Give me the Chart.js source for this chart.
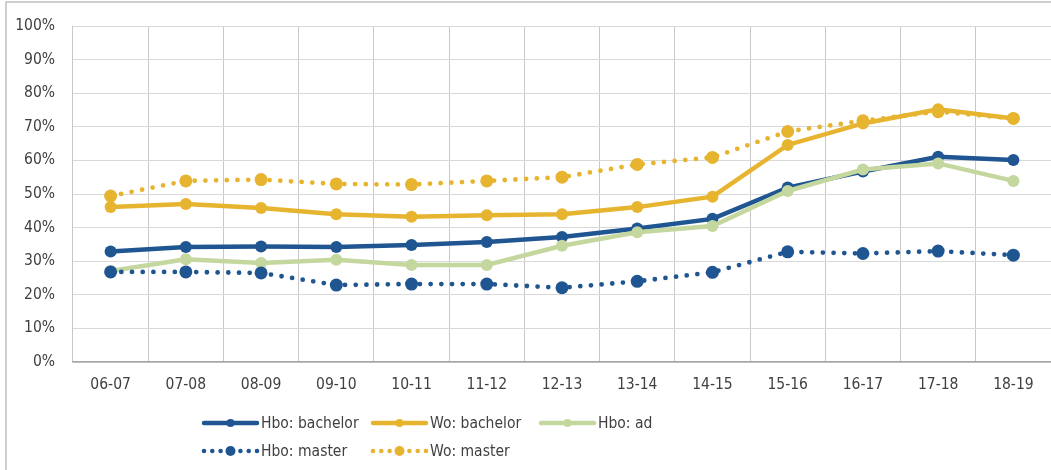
<!DOCTYPE html>
<html>
<head>
<meta charset="utf-8">
<script src="https://cdn.jsdelivr.net/npm/chart.js@4"></script>
<style>
  html, body { margin: 0; padding: 0; background: #fff; }
  #wrap { width: 1051px; height: 470px; position: relative; }
</style>
</head>
<body>
<div id="wrap"><canvas id="chart" width="1051" height="470"></canvas></div>
<script>
const labels = ['06-07', '07-08', '08-09', '09-10', '10-11', '11-12', '12-13', '13-14', '14-15', '15-16', '16-17', '17-18', '18-19'];
const hboBachelor = [32.9, 34.2, 34.4, 34.2, 34.8, 35.7, 37.2, 39.7, 42.6, 51.9, 56.7, 61.1, 60.1];
const woBachelor = [46.1, 47.0, 45.8, 44.0, 43.2, 43.7, 44.0, 46.1, 49.2, 64.6, 71.0, 75.2, 72.5];
const hboAd = [27.1, 30.6, 29.5, 30.4, 28.9, 28.9, 34.6, 38.6, 40.5, 50.9, 57.3, 59.1, 53.9];
const hboMaster = [26.8, 26.8, 26.5, 22.9, 23.2, 23.2, 22.1, 24.0, 26.7, 32.8, 32.3, 33.0, 31.8];
const woMaster = [49.4, 53.9, 54.3, 53.0, 52.8, 53.9, 55.0, 58.8, 60.9, 68.6, 71.8, 74.5, 72.5];
const yTicks = [0, 10, 20, 30, 40, 50, 60, 70, 80, 90, 100];

const BLUE = '#1f5591';
const GOLD = '#e7b42f';
const GREEN = '#c4d79e';
const FONT = '"DejaVu Sans Condensed", "DejaVu Sans", sans-serif';

function solid(label, data, color, order) {
    return {
        label, data, order,
        borderColor: color, backgroundColor: color,
        borderWidth: 4.5, pointRadius: 6, pointHoverRadius: 6,
        pointBorderWidth: 0, tension: 0, dotted: false
    };
}
function dotted(label, data, color, order) {
    return {
        label, data, order,
        borderColor: color, backgroundColor: color,
        borderWidth: 4.8, borderDash: [0, 10.7], borderCapStyle: 'round',
        pointRadius: 6.5, pointHoverRadius: 6.5,
        pointBorderWidth: 0, tension: 0, dotted: true
    };
}

// frame + two-row legend like the original
const framePlugin = {
    id: 'frame',
    beforeDraw(chart) {
        const ctx = chart.ctx;
        ctx.save();
        ctx.strokeStyle = '#c0c0c0';
        ctx.lineWidth = 1.5;
        ctx.strokeRect(6, 2, 1100, 520);
        ctx.restore();
    },
    afterDraw(chart) {
        const ctx = chart.ctx;
        const slots = [[204, 423], [373, 423], [541, 423], [204, 451], [373, 451]];
        ctx.save();
        chart.data.datasets.forEach((ds, i) => {
            const [x, y] = slots[i];
            ctx.strokeStyle = ds.borderColor;
            ctx.fillStyle = ds.borderColor;
            if (ds.dotted) {
                [0, 8.3, 16.6, 36.4, 44.7, 53].forEach(dx => {
                    ctx.beginPath();
                    ctx.arc(x + dx, y, 2.3, 0, Math.PI * 2);
                    ctx.fill();
                });
            } else {
                ctx.lineWidth = 4.5;
                ctx.lineCap = 'round';
                ctx.beginPath();
                ctx.moveTo(x, y);
                ctx.lineTo(x + 53, y);
                ctx.stroke();
            }
            ctx.beginPath();
            ctx.arc(x + 26.5, y, ds.dotted ? 5 : 4, 0, Math.PI * 2);
            ctx.fill();
            ctx.fillStyle = '#404040';
            ctx.font = '15.5px ' + FONT;
            ctx.textBaseline = 'middle';
            ctx.fillText(ds.label, x + 57, y + 1);
        });
        ctx.restore();
    }
};

new Chart(document.getElementById('chart'), {
    type: 'line',
    data: {
        labels: labels,
        datasets: [
            solid('Hbo: bachelor', hboBachelor, BLUE, 5),
            solid('Wo: bachelor', woBachelor, GOLD, 4),
            solid('Hbo: ad', hboAd, GREEN, 3),
            dotted('Hbo: master', hboMaster, BLUE, 2),
            dotted('Wo: master', woMaster, GOLD, 1)
        ]
    },
    options: {
        responsive: false,
        animation: false,
        layout: { autoPadding: false, padding: { top: 26, right: 0, left: 0, bottom: 0 } },
        plugins: {
            legend: { display: false },
            tooltip: { enabled: false }
        },
        scales: {
            x: {
                offset: true,
                grid: { offset: true, color: '#c8c8c8', drawTicks: false, lineWidth: 1 },
                border: { color: '#a6a6a6', width: 1.5 },
                ticks: { color: '#404040', font: { family: FONT, size: 15.5 }, padding: 14, maxRotation: 0 },
                afterFit(scale) {
                    scale.height = 108;
                    scale.paddingLeft = 0;
                    scale.paddingRight = 0;
                }
            },
            y: {
                min: 0, max: 100,
                afterBuildTicks(scale) { scale.ticks = yTicks.map(v => ({ value: v })); },
                grid: { color: '#d9d9d9', drawTicks: false },
                border: { display: false },
                ticks: {
                    color: '#404040', font: { family: FONT, size: 15.5 }, padding: 18,
                    callback: v => v + '%'
                },
                afterFit(scale) {
                    scale.width = 73;
                    scale.paddingTop = 0;
                    scale.paddingBottom = 0;
                }
            }
        }
    },
    plugins: [framePlugin]
});
</script>
</body>
</html>
